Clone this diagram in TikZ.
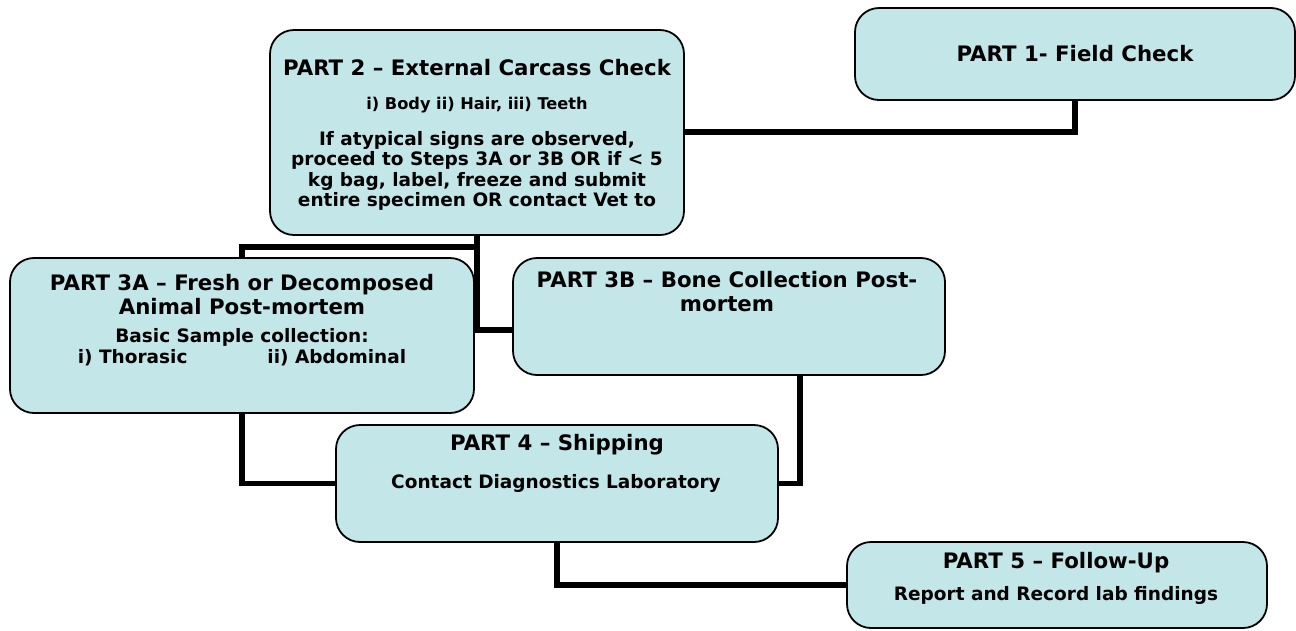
\documentclass[tikz,border=0pt]{standalone}
\usepackage{fontspec}
\setmainfont{DejaVu Sans}
\usetikzlibrary{backgrounds}
\definecolor{boxfill}{RGB}{195,230,232}
\pgfdeclarelayer{paper}
\pgfsetlayers{paper,background,main}
\begin{document}
\begin{tikzpicture}[x=1pt,y=-1pt,
  box/.style={draw=black, line width=1.8pt, fill=boxfill, rounded corners=24pt, inner sep=0pt},
  link/.style={line width=5.5pt, black},
  ttl/.style={font=\bfseries\fontsize{21.3}{24}\selectfont, align=center, inner sep=0pt},
  bodytxt/.style={font=\bfseries\fontsize{18.5}{20.5}\selectfont, align=center, inner sep=0pt},
  smalltxt/.style={font=\bfseries\fontsize{16.2}{18}\selectfont, align=center, inner sep=0pt}]
\useasboundingbox (0,0) rectangle (1296,630);
\begin{pgfonlayer}{paper}
  \fill[white] (0,0) rectangle (1296,630);
\end{pgfonlayer}
% boxes
\node[box, minimum width=440pt, minimum height=92pt] (p1) at (1075,54) {};
\node[box, minimum width=414pt, minimum height=205pt] (p2) at (477,132.5) {};
\node[box, minimum width=464pt, minimum height=155pt] (p3a) at (242,335.5) {};
\node[box, minimum width=432pt, minimum height=117pt] (p3b) at (729,316.5) {};
\node[box, minimum width=442pt, minimum height=117pt] (p4) at (557,483.5) {};
\node[box, minimum width=420pt, minimum height=86pt] (p5) at (1057,585) {};
% texts
\node[ttl] (t1) at (1075,54) {PART 1- Field Check};
\node[ttl] (t2) at (477,68) {PART 2 – External Carcass Check};
\node[smalltxt] (t2b) at (477,105) {i) Body ii) Hair, iii) Teeth};
\node[bodytxt] (t2c) at (477,171) {If atypical signs are observed,\\proceed to Steps 3A or 3B OR if < 5\\kg bag, label, freeze and submit\\entire specimen OR contact Vet to};
\node[ttl] (t3a) at (242,295) {PART 3A – Fresh or Decomposed\\Animal Post-mortem};
\node[bodytxt] (t3ab) at (242,347) {Basic Sample collection:\\i) Thorasic\hspace{80pt}ii) Abdominal};
\node[ttl] (t3b) at (727,291.5) {PART 3B – Bone Collection Post-\\mortem};
\node[ttl] (t4) at (557,445) {PART 4 – Shipping};
\node[bodytxt] (t4b) at (556,483) {Contact Diagnostics Laboratory};
\node[ttl] (t5) at (1056,563) {PART 5 – Follow-Up};
\begin{scope}
  \clip (0,0) rectangle (1296,609);
  \node[bodytxt] (t5b) at (1056,595) {Report and Record lab findings};
\end{scope}
% connectors
\begin{scope}[on background layer]
  \draw[link] (p1.south) |- (p2.east |- 0,132);
  \draw[link] (p2.south) -- (p2.south |- 0,330) -- (p3b.west |- 0,330);
  \draw[link] (p2.south |- 0,247) -| (p3a.north);
  \draw[link] (p3a.south) |- (p4.west);
  \draw[link] ([xshift=71pt]p3b.south) |- (p4.east);
  \draw[link] (p4.south) |- (p5.west);
\end{scope}
\end{tikzpicture}
\end{document}
